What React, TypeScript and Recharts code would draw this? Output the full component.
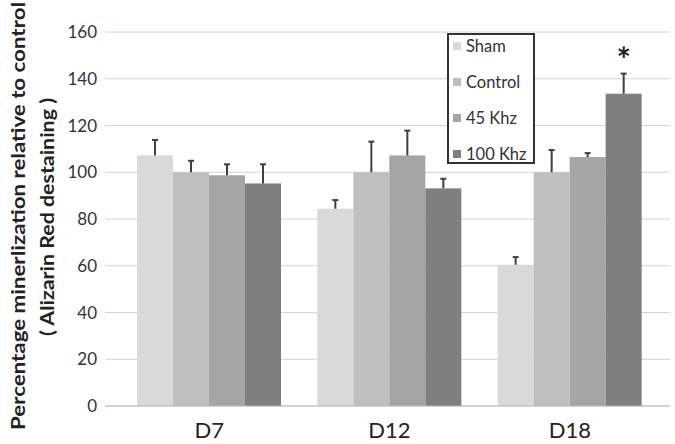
import { BarChart, Bar, XAxis, YAxis, CartesianGrid, LabelList, Label } from 'recharts';

const days = ['D7', 'D12', 'D18'];
const sham = [107.2, 84.4, 60.4];
const control = [100, 100, 100];
const khz45 = [98.7, 107.2, 106.5];
const khz100 = [95.2, 93.1, 133.6];
const shamErr = [6.6, 3.7, 3.3];
const controlErr = [4.9, 13.1, 9.5];
const khz45Err = [4.7, 10.6, 1.7];
const khz100Err = [8.2, 4.1, 8.6];
const marks100 = ['', '', '*'];
const yTicks = [0, 20, 40, 60, 80, 100, 120, 140, 160];

const SERIES = [
	{ key: 'sham', name: 'Sham', color: '#d9d9d9' },
	{ key: 'control', name: 'Control', color: '#bfbfbf' },
	{ key: 'khz45', name: '45 Khz', color: '#a5a5a5' },
	{ key: 'khz100', name: '100 Khz', color: '#7f7f7f' },
];

const data = days.map((d, i) => ({
	day: d,
	sham: sham[i],
	control: control[i],
	khz45: khz45[i],
	khz100: khz100[i],
	shamErr: shamErr[i],
	controlErr: controlErr[i],
	khz45Err: khz45Err[i],
	khz100Err: khz100Err[i],
	mark: marks100[i],
}));

const FONT = 'Lato, "Open Sans", sans-serif';

// bar plus an upward-only error bar, scaled from the bar's own height
const barWithError = (errKey: string) => (props: any) => {
	const { x, y, width, height, fill, payload, value } = props;
	const err = payload[errKey];
	const perUnit = height / value;
	const top = y - err * perUnit;
	const cx = x + width / 2;
	return (
		<g>
			<rect x={x} y={y} width={width} height={height} fill={fill} />
			<line x1={cx} y1={y} x2={cx} y2={top} stroke='#404040' strokeWidth={2} />
			<line x1={cx - 3} y1={top} x2={cx + 3} y2={top} stroke='#404040' strokeWidth={2} />
		</g>
	);
};

const LegendBox = () => (
	<div
		style={{
			position: 'absolute',
			left: 447,
			top: 33,
			border: '2px solid #333',
			width: 88,
			height: 131,
			boxSizing: 'border-box',
			background: '#fff',
			fontFamily: FONT,
			fontSize: 16.5,
			color: '#333',
		}}
	>
		{SERIES.map((s, i) => (
			<div
				key={s.key}
				style={{
					position: 'absolute',
					left: 4,
					top: i * 36,
					height: 22,
					display: 'flex',
					alignItems: 'center',
					whiteSpace: 'nowrap',
				}}
			>
				<span style={{ width: 8, height: 8, background: s.color, marginRight: 5, display: 'inline-block' }} />
				{s.name}
			</div>
		))}
	</div>
);

const renderYLabel = () => (
	<g fontFamily={FONT} fontWeight='bold' fill='#222' fontSize={19}>
		<text
			x={17}
			y={216}
			transform='rotate(-90 17 216)'
			textAnchor='middle'
			dominantBaseline='central'
			textLength={428}
			lengthAdjust='spacingAndGlyphs'
		>
			Percentage minerlization relative to control
		</text>
		<text
			x={46}
			y={217}
			transform='rotate(-90 46 217)'
			textAnchor='middle'
			dominantBaseline='central'
			textLength={238}
			lengthAdjust='spacingAndGlyphs'
		>
			( Alizarin Red destaining )
		</text>
	</g>
);

const renderMark = (props: any) => {
	const { x, y, width, value } = props;
	if (!value) return null;
	return (
		<text x={x + width / 2} y={y - 22} textAnchor='middle' fontSize={34} fontFamily={FONT} fontWeight='bold' fill='#222'>
			{value}
		</text>
	);
};

export default function App() {
	return (
		<div style={{ position: 'absolute', left: 0, top: 0, width: 675, height: 444, background: '#fff' }}>
			<BarChart
				width={675}
				height={444}
				data={data}
				margin={{ top: 32, right: 5, bottom: 8, left: 0 }}
				barCategoryGap={18}
				barGap={0}
			>
				<CartesianGrid vertical={false} stroke='#d4d4d4' />
				<XAxis
					dataKey='day'
					height={30}
					tickLine={false}
					axisLine={{ stroke: '#bdbdbd' }}
					padding={{ left: 14, right: 10 }}
					tick={{ fontSize: 22, fill: '#222', fontFamily: FONT }}
					tickMargin={10}
				/>
				<YAxis
					width={105}
					domain={[0, 160]}
					ticks={yTicks}
					tickLine={false}
					axisLine={false}
					tick={{ fontSize: 17, fill: '#333', fontFamily: FONT }}
				>
					<Label content={renderYLabel} />
				</YAxis>
				{SERIES.map((s) => (
					<Bar
						key={s.key}
						dataKey={s.key}
						name={s.name}
						fill={s.color}
						isAnimationActive={false}
						shape={barWithError(s.key + 'Err')}
					>
						{s.key === 'khz100' && <LabelList dataKey='mark' content={renderMark} />}
					</Bar>
				))}
			</BarChart>
			<LegendBox />
		</div>
	);
}
